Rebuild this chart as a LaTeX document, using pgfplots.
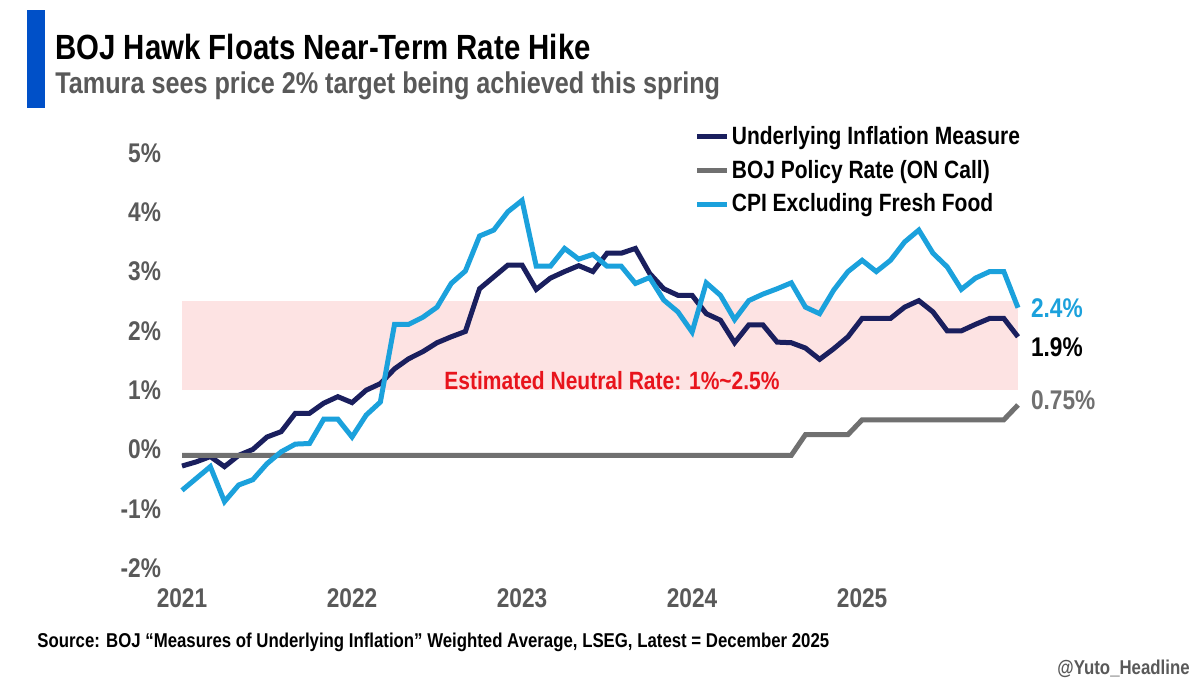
\documentclass[border=0pt]{standalone}
\usepackage{pgfplots}
\pgfplotsset{compat=1.18}
\usepackage{fontspec}
\setmainfont{Liberation Sans}[FakeStretch=0.84]
\definecolor{navy}{HTML}{1A1F5E}
\definecolor{sky}{HTML}{1BA1DC}
\definecolor{rategray}{HTML}{707070}
\definecolor{labgray}{HTML}{595959}
\definecolor{band}{HTML}{FDE3E3}
\definecolor{bandred}{HTML}{E8141C}
\definecolor{barblue}{HTML}{0050C8}

% month index 0 = Jan 2021
\pgfplotstableread{
m   v
0  -0.28
1  -0.21
2  -0.12
3  -0.29
4  -0.10
5   0.00
6   0.21
7   0.30
8   0.61
9   0.61
10  0.78
11  0.89
12  0.79
13  1.00
14  1.11
15  1.36
16  1.53
17  1.65
18  1.80
19  1.90
20  1.99
21  2.71
22  2.91
23  3.11
24  3.11
25  2.70
26  2.89
27  3.00
28  3.10
29  3.00
30  3.31
31  3.31
32  3.39
33  2.97
34  2.71
35  2.60
36  2.60
37  2.29
38  2.18
39  1.80
40  2.10
41  2.10
42  1.81
43  1.80
44  1.71
45  1.52
46  1.70
47  1.90
48  2.21
49  2.21
50  2.21
51  2.40
52  2.51
53  2.32
54  2.00
55  2.00
56  2.11
57  2.21
58  2.21
59  1.90
}\underlying

\pgfplotstableread{
m   v
0  -0.69
1  -0.49
2  -0.29
3  -0.88
4  -0.60
5  -0.51
6  -0.24
7  -0.04
8   0.09
9   0.10
10  0.51
11  0.51
12  0.21
13  0.58
14  0.80
15  2.11
16  2.11
17  2.23
18  2.40
19  2.80
20  3.01
21  3.60
22  3.70
23  4.01
24  4.20
25  3.09
26  3.09
27  3.39
28  3.21
29  3.29
30  3.09
31  3.09
32  2.80
33  2.90
34  2.52
35  2.32
36  1.98
37  2.81
38  2.60
39  2.19
40  2.51
41  2.62
42  2.71
43  2.81
44  2.40
45  2.29
46  2.69
47  3.00
48  3.19
49  3.00
50  3.19
51  3.50
52  3.70
53  3.31
54  3.08
55  2.70
56  2.89
57  3.00
58  3.00
59  2.39
}\cpi

\pgfplotstableread{
m   v
0  -0.10
43 -0.10
44  0.25
47  0.25
48  0.50
58  0.50
59  0.75
}\policy

\begin{document}
\begin{tikzpicture}[x=0.5pt,y=0.5pt,font=\bfseries]
\path[fill=white,use as bounding box] (0,0) rectangle (1200,692);
\fill[barblue] (27,584) rectangle (45,682);
\node[anchor=base west,inner sep=0,font=\bfseries\fontsize{17.5}{20}\selectfont] at (55,632) {BOJ Hawk Floats Near-Term Rate Hike};
\node[anchor=base west,inner sep=0,text=labgray,font=\bfseries\fontsize{15}{18}\selectfont] at (55,598) {Tamura sees price 2\% target being achieved this spring};

\begin{axis}[
  at={(91pt,62pt)}, anchor=south west,
  scale only axis, width=418pt, height=207.5pt,
  xmin=0, xmax=59, ymin=-2, ymax=5,
  axis lines=left, axis line style={draw=none},
  major tick length=0pt,
  xtick={0,12,24,36,48},
  xticklabels={2021,2022,2023,2024,2025},
  ytick={-2,-1,0,1,2,3,4,5},
  yticklabels={-2\%,-1\%,0\%,1\%,2\%,3\%,4\%,5\%},
  tick label style={text=labgray,font=\bfseries\fontsize{13.5}{15}\selectfont},
  xticklabel style={anchor=north,yshift=-7pt},
  yticklabel style={anchor=east,xshift=-7pt},
  clip=false,
  legend cell align=left,
  legend style={at={(0.613,1.075)},anchor=north west,draw=none,fill=none,
    inner sep=0pt,row sep=2.3pt,nodes={inner xsep=1pt},
    font=\bfseries\fontsize{12.5}{14}\selectfont},
  legend image code/.code={\draw[#1,line width=2.5pt] (0pt,0pt) -- (15pt,0pt);},
]
\addplot[fill=band,draw=none,forget plot] coordinates {(0,1) (59,1) (59,2.5) (0,2.5)} -- cycle;
\addplot[navy,line width=2.5pt] table[x=m,y=v] {\underlying};
\addlegendentry{Underlying Inflation Measure}
\addplot[rategray,line width=2.5pt] table[x=m,y=v] {\policy};
\addlegendentry{BOJ Policy Rate (ON Call)}
\addplot[sky,line width=2.5pt] table[x=m,y=v] {\cpi};
\addlegendentry{CPI Excluding Fresh Food}
\node[text=bandred,font=\bfseries\fontsize{12.5}{14}\selectfont] at (axis cs:30.35,1.17) {Estimated Neutral Rate: 1\%\textasciitilde2.5\%};
\node[anchor=west,text=sky,font=\bfseries\fontsize{13.5}{15}\selectfont,xshift=3pt] at (axis cs:59,2.38) {2.4\%};
\node[anchor=west,text=black,font=\bfseries\fontsize{13.5}{15}\selectfont,xshift=3pt] at (axis cs:59,1.73) {1.9\%};
\node[anchor=west,text=rategray,font=\bfseries\fontsize{13.5}{15}\selectfont,xshift=3pt] at (axis cs:59,0.83) {0.75\%};
\end{axis}

\node[anchor=base west,inner sep=0,font=\bfseries\fontsize{10}{12}\selectfont] at (37,45) {Source: BOJ “Measures of Underlying Inflation” Weighted Average, LSEG, Latest = December 2025};
\node[anchor=base east,inner sep=0,text=labgray,font=\bfseries\fontsize{10}{12}\selectfont] at (1190,18) {@Yuto\_Headline};
\end{tikzpicture}
\end{document}
